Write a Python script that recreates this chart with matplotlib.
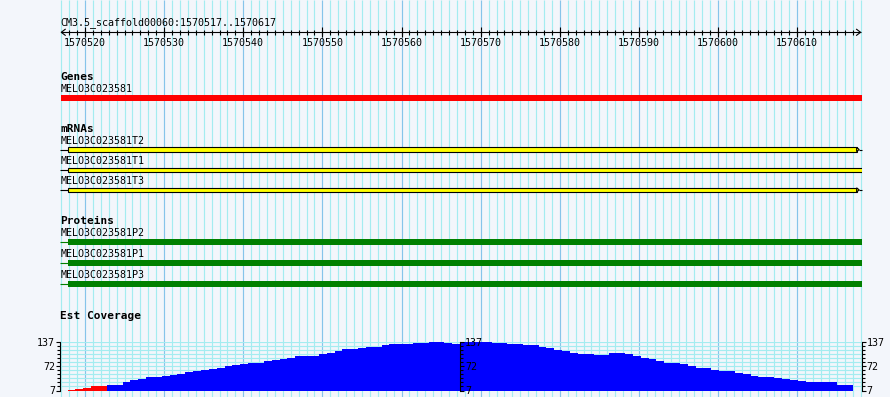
import numpy as np
import matplotlib.pyplot as plt
from matplotlib.patches import Rectangle, Polygon
from matplotlib.ticker import FixedLocator, NullFormatter

# view / ruler
view_start = 1570517
view_end = 1570618
ruler_title = "CM3.5_scaffold00060:1570517..1570617"
ruler_ticks = list(range(1570520, 1570611, 10))

# genes
gene_names = ["MELO3C023581"]
gene_start = [1570517]
gene_end = [1570618.15]

# mRNAs
mrna_names = ["MELO3C023581T2", "MELO3C023581T1", "MELO3C023581T3"]
mrna_start = [1570517.9, 1570517.9, 1570517.9]
mrna_end = [1570617.5, 1570618.6, 1570617.5]
mrna_arrow = [True, False, True]

# proteins
protein_names = ["MELO3C023581P2", "MELO3C023581P1", "MELO3C023581P3"]
protein_start = [1570517.9, 1570517.9, 1570517.9]
protein_end = [1570618.15, 1570618.15, 1570618.15]

# est coverage, one value per bin
cov_start = 1570517.8
cov_end = 1570617.0
coverage = [8, 10, 13, 19, 19, 21, 21, 29, 35, 38,
            43, 43, 46, 48, 52, 57, 59, 62, 65, 67,
            72, 75, 77, 80, 80, 85, 88, 91, 95, 99,
            99, 99, 104, 107, 112, 117, 117, 121, 123, 123,
            129, 131, 131, 131, 134, 134, 137, 137, 134, 132,
            137, 137, 137, 137, 134, 134, 131, 131, 129, 129,
            123, 120, 115, 112, 107, 104, 104, 102, 102, 107,
            107, 104, 99, 94, 91, 86, 80, 80, 77, 72,
            68, 66, 63, 58, 58, 55, 50, 47, 44, 44,
            41, 39, 36, 33, 31, 31, 31, 31, 21, 21]
cov_min, cov_max = 7, 137
cov_ticks = [7, 72, 137]

bg = '#F3F6FB'
grid_minor = '#A4ECF0'
grid_major = '#86C4EA'
mono = 'DejaVu Sans Mono'

W, H = 890, 397
fig = plt.figure(figsize=(W / 100, H / 100), dpi=100, facecolor=bg)
ax = fig.add_axes([0, 0, 1, 1])
ax.set_facecolor(bg)
ax.set_xlim(1570509.26, 1570621.72)
ax.set_ylim(H, 0)
ax.axis('off')

# vertical grid
pos = np.arange(view_start, view_end + 1)
ax.vlines(pos[pos % 10 != 0], 0, H, color=grid_minor, lw=0.85, zorder=0)
ax.vlines(pos[pos % 10 == 0], 0, H, color=grid_major, lw=0.85, zorder=0)

# ruler
ax.text(view_start - 0.05, 25.5, ruler_title, family=mono, fontsize=7.2, va='baseline')
ax.hlines(32.3, view_start, view_end, color='black', lw=0.8)
ax.vlines(np.arange(view_start + 1, view_end), 29.5, 34.8, color='black', lw=0.8)
ax.vlines(ruler_ticks, 27, 36.5, color='black', lw=0.8)
ax.plot([view_start + 0.5, view_start, view_start + 0.5], [29.3, 32.3, 35.3], color='black', lw=0.8)
ax.plot([view_end - 0.5, view_end, view_end - 0.5], [29.3, 32.3, 35.3], color='black', lw=0.8)
for t in ruler_ticks:
    ax.text(t, 45.8, str(t), family=mono, fontsize=7.2, ha='center', va='baseline')

def track_title(y, s):
    ax.text(view_start - 0.1, y, s, family=mono, fontsize=8, weight='bold', va='baseline')

def feat_label(y, s):
    ax.text(view_start - 0.05, y, s, family=mono, fontsize=7.2, va='baseline')

# genes
track_title(80, "Genes")
for i, name in enumerate(gene_names):
    feat_label(92.5, name)
    ax.barh(97.8, gene_end[i] - gene_start[i], left=gene_start[i], height=5.7, color='#FF0000', zorder=2)

# mRNAs
track_title(131.8, "mRNAs")
clip = Rectangle((view_start - 1, 0), view_end + 0.15 - (view_start - 1), H, transform=ax.transData)
for i, name in enumerate(mrna_names):
    base = 144 + 20.2 * i
    yc = base + 5.5
    feat_label(base, name)
    ax.hlines(yc, view_start - 0.2, mrna_start[i], color='black', lw=0.8, zorder=2)
    bars = ax.barh(yc, mrna_end[i] - mrna_start[i], left=mrna_start[i], height=4.1,
                   color='#FFFF00', edgecolor='black', lw=0.8, zorder=3)
    for b in bars:
        b.set_clip_path(clip)
    if mrna_arrow[i]:
        e = mrna_end[i]
        ax.add_patch(Polygon([[e, yc - 2.05], [e + 0.33, yc], [e, yc + 2.05]],
                             facecolor='#FFFF00', edgecolor='black', lw=0.8, zorder=3))
        ax.hlines(yc, e + 0.33, view_end + 0.15, color='black', lw=0.8, zorder=2)

# proteins
track_title(224.3, "Proteins")
for i, name in enumerate(protein_names):
    base = 236 + 21.15 * i
    yc = base + 6
    feat_label(base, name)
    ax.hlines(yc, view_start - 0.2, protein_start[i], color='#008000', lw=0.8, zorder=2)
    ax.barh(yc, protein_end[i] - protein_start[i], left=protein_start[i], height=6,
            color='#008000', zorder=3)

# est coverage
track_title(319.3, "Est Coverage")
cov = np.array(coverage)
edges = np.linspace(cov_start, cov_end, len(cov) + 1)
colors = np.where(cov < 20, '#FF0000', '#0000FF')

ax2 = fig.add_axes([0, (H - 390.5) / H, 1, 48.5 / H])
ax2.patch.set_visible(False)
ax2.set_xlim(ax.get_xlim())
ax2.set_ylim(cov_min, cov_max)
levels = np.linspace(cov_min, cov_max, 13)
ax2.hlines(levels, view_start - 0.15, view_end + 0.15, color=grid_minor, lw=0.85, zorder=0)
ax2.bar(edges[:-1], cov - cov_min, width=np.diff(edges), bottom=cov_min, align='edge',
        color=colors, lw=0, zorder=2)

ax3 = fig.add_axes(ax2.get_position())
ax3.patch.set_visible(False)
ax3.set_xlim(ax.get_xlim())
ax3.set_ylim(cov_min, cov_max)

for a in (ax2, ax3):
    a.set_xticks([])
    a.spines['top'].set_visible(False)
    a.spines['bottom'].set_visible(False)
    a.yaxis.set_major_locator(FixedLocator(cov_ticks))
    a.yaxis.set_minor_locator(FixedLocator(levels))
    a.yaxis.set_minor_formatter(NullFormatter())
    a.tick_params(axis='y', which='major', length=3, width=0.8, pad=0.5,
                  labelsize=7.2, labelfontfamily=mono)
    a.tick_params(axis='y', which='minor', length=2, width=0.8)
    for s in a.spines.values():
        s.set_linewidth(0.8)

ax2.spines['left'].set_position(('data', view_start - 0.15))
ax2.spines['right'].set_position(('data', view_end + 0.15))
ax2.yaxis.set_ticks_position('both')
ax2.tick_params(axis='y', which='both', labelleft=True, labelright=True)

ax3.spines['left'].set_visible(False)
ax3.spines['right'].set_position(('data', (view_start + view_end) / 2 - 0.1))
ax3.yaxis.set_ticks_position('right')
ax3.tick_params(axis='y', which='both', labelright=True, labelleft=False)
ax3.set_zorder(ax2.get_zorder() + 1)

fig.savefig('out.png', dpi=100, facecolor=bg)
